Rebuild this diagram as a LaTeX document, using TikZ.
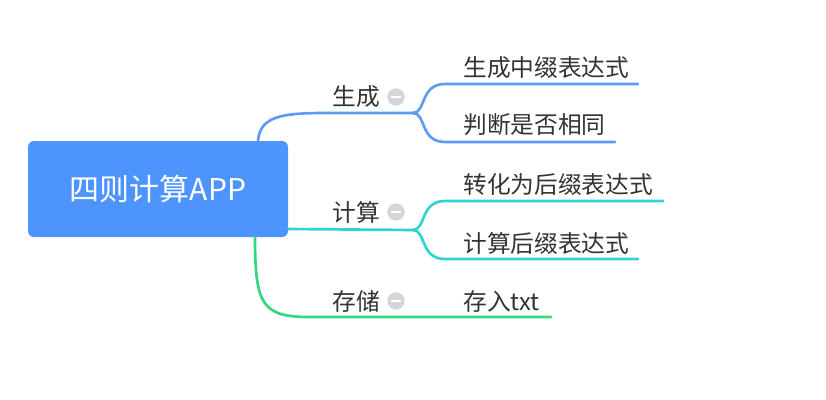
\documentclass[tikz,border=0pt]{standalone}
\usepackage{fontspec}
\setmainfont{Noto Sans CJK SC}
\usetikzlibrary{positioning}
\definecolor{rootblue}{HTML}{4E94FF}
\definecolor{lineblue}{HTML}{5A9CF8}
\definecolor{lineteal}{HTML}{2FD3D3}
\definecolor{linegreen}{HTML}{2FD97D}
\definecolor{textgray}{HTML}{333333}
\definecolor{foldgray}{HTML}{D5D6DB}
\tikzset{
	topic/.style={rectangle, rounded corners=4.5pt, fill=rootblue, text=white, minimum width=195pt, minimum height=72pt, font=\fontsize{22.5}{26}\selectfont},
	lbl/.style={anchor=west, inner sep=0pt, text=textgray, font=\fontsize{17.8}{21}\selectfont},
	fold/.style={circle, fill=foldgray, minimum size=13pt, inner sep=0pt, path picture={\draw[white, line width=1.8pt] ([xshift=-3.5pt]path picture bounding box.center) -- ([xshift=3.5pt]path picture bounding box.center);}},
	branch/.style={line width=2pt, line cap=round}
}
\begin{document}
\begin{tikzpicture}[x=0.75pt, y=-0.75pt]
	\useasboundingbox (0,0) rectangle (826,400);
	\node[topic] (root) at (158,189) {四则计算APP};
	% second level
	\node[lbl] (gen) at (332,97) {生成};
	\node[lbl] (calc) at (332,212) {计算};
	\node[lbl] (store) at (332,301) {存储};
	\node[fold] (genf) at (396,97) {};
	\node[fold] (calcf) at (396,212) {};
	\node[fold] (storef) at (396,301) {};
	% third level
	\node[lbl] (infix) at (463,68) {生成中缀表达式};
	\node[lbl] (same) at (463,125) {判断是否相同};
	\node[lbl] (postfix) at (463,185) {转化为后缀表达式};
	\node[lbl] (eval) at (463,243) {计算后缀表达式};
	\node[lbl] (txt) at (463,301) {存入txt};
	\coordinate (g0) at (258,141);
	\coordinate (gfork) at (413,113);
	\coordinate (c0) at (288,229);
	\coordinate (cfork) at (413,230);
	\coordinate (s0) at (255,237);
	\draw[branch, lineblue] (g0) .. controls (260,116) and (282,113) .. (327,113) -- (gfork);
	\draw[branch, lineblue] (gfork) .. controls (426,113) and (420,84) .. (445,84) -- (638,84);
	\draw[branch, lineblue] (gfork) .. controls (426,113) and (420,142) .. (445,142) -- (615,142);
	\draw[branch, lineteal] (c0) -- (cfork);
	\draw[branch, lineteal] (cfork) .. controls (426,230) and (420,201) .. (445,201) -- (663,201);
	\draw[branch, lineteal] (cfork) .. controls (426,230) and (420,259) .. (445,259) -- (638,259);
	\draw[branch, linegreen] (s0) .. controls (255,305) and (262,317) .. (310,317) -- (551,317);
\end{tikzpicture}
\end{document}
